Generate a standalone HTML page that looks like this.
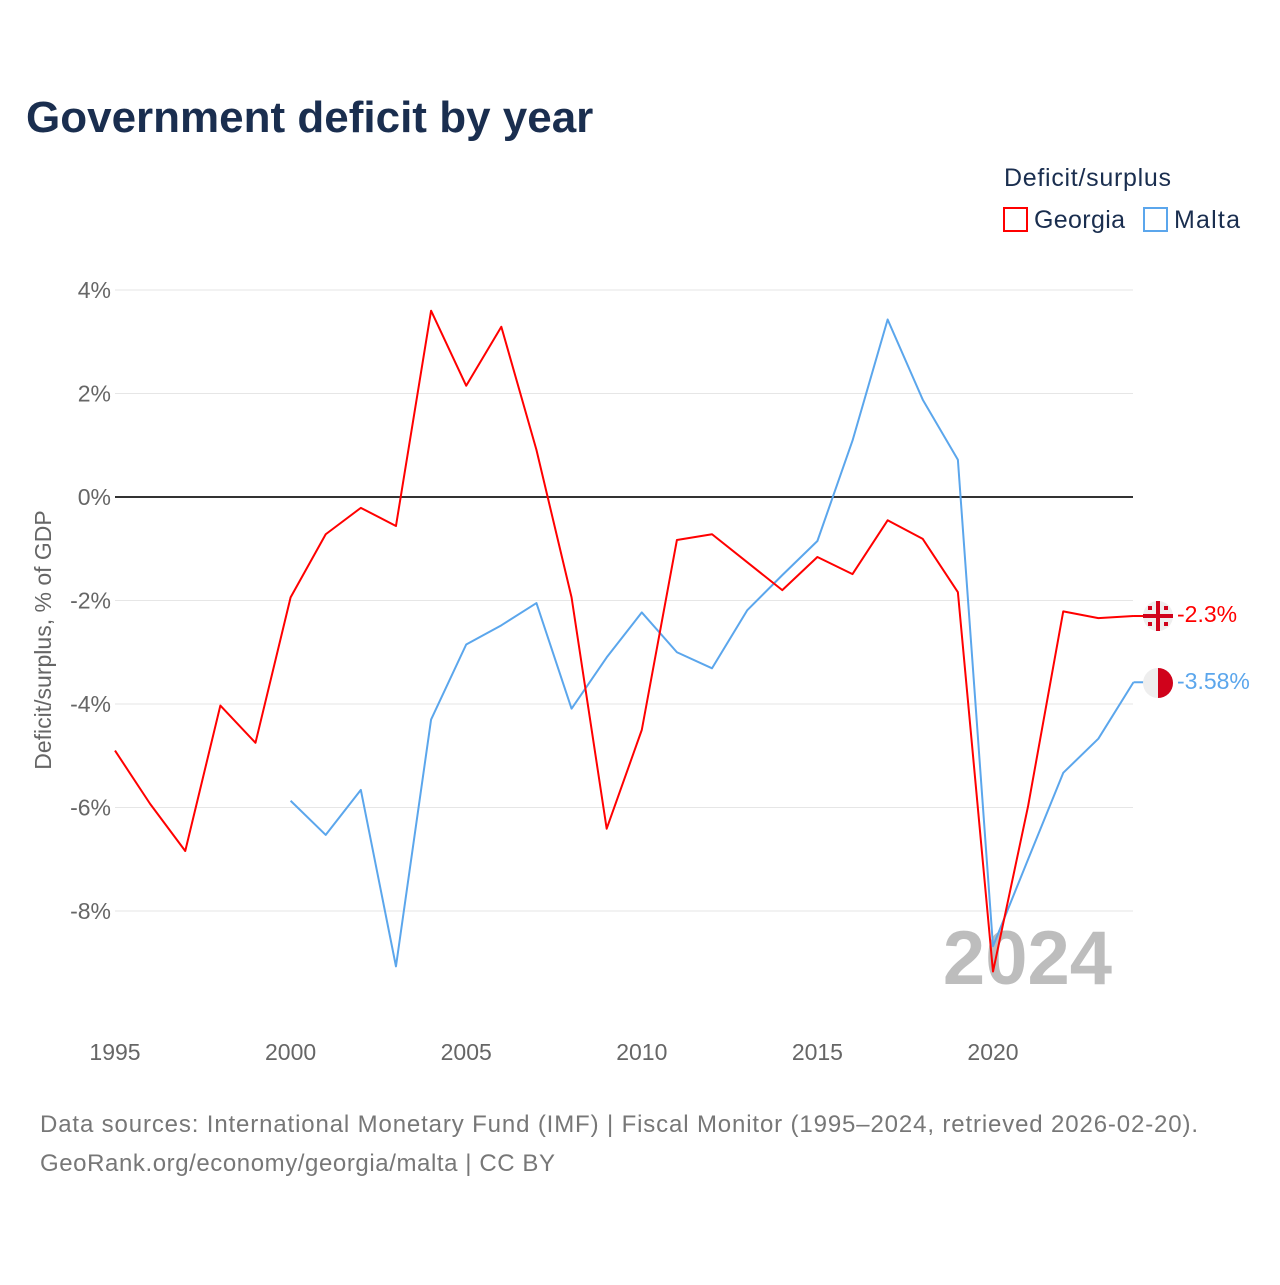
<!DOCTYPE html>
<html><head><meta charset="utf-8"><style>
body{margin:0;background:#fff;font-family:"Liberation Sans",sans-serif;}
svg text{font-family:"Liberation Sans",sans-serif;}
</style></head><body>
<svg width="1280" height="1280" xmlns="http://www.w3.org/2000/svg">
<text x="26" y="132" font-size="44" font-weight="bold" fill="#1a2e4f">Government deficit by year</text>
<text x="1004" y="186" font-size="25" fill="#1a2e4f" textLength="167">Deficit/surplus</text>
<g><rect x="1004" y="208" width="23" height="23" fill="none" stroke="#f00" stroke-width="2"/><text x="1034" y="228" font-size="25" fill="#1a2e4f" textLength="91">Georgia</text></g>
<g><rect x="1144" y="208" width="23" height="23" fill="none" stroke="#5ba6ec" stroke-width="2"/><text x="1174" y="228" font-size="25" fill="#1a2e4f" textLength="66">Malta</text></g>
<g id="grid"></g>
<g id="yt"></g>
<g id="xt"></g>
<text transform="translate(51,640) rotate(-90)" text-anchor="middle" font-size="23" fill="#666">Deficit/surplus, % of GDP</text>
<text x="1112" y="984" text-anchor="end" font-size="76" font-weight="bold" fill="#bdbdbd">2024</text>
<g id="lines"></g>
<g>
<circle cx="1158" cy="616" r="15" fill="#eee"/><rect x="1143" y="614" width="30" height="4" fill="#d0021b"/><rect x="1156" y="601" width="4" height="30" fill="#d0021b"/>
<g fill="#d0021b"><rect x="1148" y="606" width="4" height="4"/><rect x="1164" y="606" width="4" height="4"/><rect x="1148" y="622" width="4" height="4"/><rect x="1164" y="622" width="4" height="4"/></g></g>
<g>
<circle cx="1158" cy="683" r="15" fill="#eee"/><path d="M1158 668 A15 15 0 0 1 1158 698 Z" fill="#d0021b"/></g>
<text x="1177" y="622" font-size="23" fill="#f00">-2.3%</text>
<text x="1177" y="689" font-size="23" fill="#5ba6ec">-3.58%</text>
<text x="40" y="1132" font-size="24" fill="#777" textLength="1158">Data sources: International Monetary Fund (IMF) | Fiscal Monitor (1995–2024, retrieved 2026-02-20).</text>
<text x="40" y="1171" font-size="24" fill="#777" textLength="515">GeoRank.org/economy/georgia/malta | CC BY</text>
</svg>
<script>
const georgiaYears=[1995,1996,1997,1998,1999,2000,2001,2002,2003,2004,2005,2006,2007,2008,2009,2010,2011,2012,2013,2014,2015,2016,2017,2018,2019,2020,2021,2022,2023,2024];
const georgiaValues=[-4.9,-5.93,-6.84,-4.03,-4.75,-1.94,-0.72,-0.21,-0.56,3.6,2.15,3.29,0.91,-1.94,-6.41,-4.5,-0.83,-0.72,-1.26,-1.8,-1.16,-1.49,-0.45,-0.81,-1.84,-9.17,-5.97,-2.21,-2.34,-2.3];
const maltaYears=[2000,2001,2002,2003,2004,2005,2006,2007,2008,2009,2010,2011,2012,2013,2014,2015,2016,2017,2018,2019,2020,2021,2022,2023,2024];
const maltaValues=[-5.87,-6.53,-5.66,-9.07,-4.3,-2.85,-2.48,-2.05,-4.09,-3.1,-2.23,-3.0,-3.31,-2.19,-1.51,-0.85,1.09,3.43,1.88,0.72,-8.68,-7.0,-5.33,-4.67,-3.58];
const yTicks=[4,2,0,-2,-4,-6,-8];
const xTicks=[1995,2000,2005,2010,2015,2020];
const NS='http://www.w3.org/2000/svg';
const X=y=>115+(y-1995)*35.12;
const Y=v=>497-v*51.75;
function mk(t,a,p){const e=document.createElementNS(NS,t);for(const k in a)e.setAttribute(k,a[k]);p.appendChild(e);return e;}
const grid=document.getElementById('grid'),yt=document.getElementById('yt'),xt=document.getElementById('xt'),lines=document.getElementById('lines');
yTicks.forEach(v=>{
 const l=mk('line',{x1:115,x2:1133,y1:Y(v),y2:Y(v),stroke:v===0?'#333':'#e6e6e6','stroke-width':v===0?2:1},grid);
 
 
 const t=mk('text',{x:111,y:Y(v)+8,'text-anchor':'end','font-size':23,fill:'#666'},yt);t.textContent=v+'%';
 
 
});
xTicks.forEach(y=>{
 const t=mk('text',{x:X(y),y:1060,'text-anchor':'middle','font-size':23,fill:'#666'},xt);t.textContent=y;
 
 
});
function line(ys,vs,c,n){
 const p=mk('polyline',{points:ys.map((y,i)=>X(y)+','+Y(vs[i])).join(' '),fill:'none',stroke:c,'stroke-width':2,'stroke-linejoin':'round'},lines);
 
 
 const last=ys.length-1;
 const s=mk('line',{x1:X(ys[last]),y1:Y(vs[last]),x2:1145,y2:Y(vs[last]),stroke:c,'stroke-width':2},lines);
 
 
}
line(maltaYears,maltaValues,'#5ba6ec','malta-line');
line(georgiaYears,georgiaValues,'#f00','georgia-line');
</script>
</body></html>
